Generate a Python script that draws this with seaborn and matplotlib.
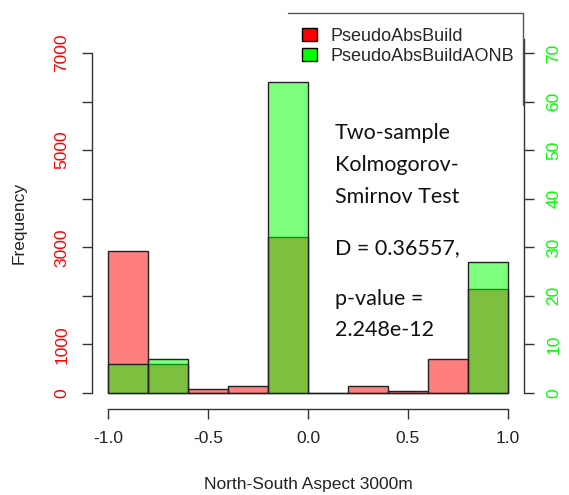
import matplotlib
matplotlib.use("Agg")
import matplotlib.pyplot as plt
from matplotlib.patches import Patch
from matplotlib.lines import Line2D
import seaborn as sns

# bins of the North-South aspect histogram
bin_edges = [-1.0, -0.8, -0.6, -0.4, -0.2, 0.0, 0.2, 0.4, 0.6, 0.8, 1.0]
bin_mids = [-0.9, -0.7, -0.5, -0.3, -0.1, 0.1, 0.3, 0.5, 0.7, 0.9]
# counts
abs_build = [2920, 600, 75, 145, 3215, 0, 140, 45, 695, 2135]
abs_build_aonb = [6, 7, 0, 0, 64, 0, 0, 0, 0, 27]

left_ticks = [0, 1000, 2000, 3000, 4000, 5000, 6000, 7000]
left_labels = ["0", "1000", "", "3000", "", "5000", "", "7000"]
right_ticks = [0, 10, 20, 30, 40, 50, 60, 70]
x_ticks = [-1.0, -0.5, 0.0, 0.5, 1.0]

sns.set_theme(style="white")
plt.rcParams["font.family"] = ["Liberation Sans", "DejaVu Sans"]

W, H = 569, 495
fig = plt.figure(figsize=(W / 100, H / 100), dpi=100)
ax = fig.add_axes([92 / W, 1 - 406.6 / H, 432 / W, 367.2 / H])

# first sample (left axis, red)
sns.histplot(x=bin_mids, weights=abs_build, bins=bin_edges, ax=ax,
             color="red", edgecolor="black", linewidth=1)
for p in ax.patches:
    p.set_alpha(None)
    p.set_facecolor((1, 0, 0, 0.5))
    p.set_edgecolor("#222222")

# second sample (right axis, green)
ax2 = ax.twinx()
sns.histplot(x=bin_mids, weights=abs_build_aonb, bins=bin_edges, ax=ax2,
             color="lime", edgecolor="black", linewidth=1)
for p in ax2.patches:
    p.set_alpha(None)
    p.set_facecolor((0, 1, 0, 0.5))
    p.set_edgecolor("#222222")

ax.set_xlim(-1.08, 1.08)
ax.set_ylim(-280, 7280)
ax2.set_ylim(-2.8, 72.8)

for a in (ax, ax2):
    for s in a.spines.values():
        s.set_visible(False)
    a.grid(False)

ax.spines["left"].set_visible(True)
ax.spines["left"].set_bounds(0, 7000)
ax.spines["bottom"].set_visible(True)
ax.spines["bottom"].set_bounds(-1, 1)
ax.spines["bottom"].set_position(("outward", 1.5))
ax2.spines["right"].set_visible(True)
ax2.spines["right"].set_bounds(0, 72.8)
for s in (ax.spines["left"], ax.spines["bottom"], ax2.spines["right"]):
    s.set_color("#333333")
    s.set_linewidth(1)

ax.set_yticks(left_ticks)
ax.set_yticklabels(left_labels, rotation=90, va="center", color="red")
ax2.set_yticks(right_ticks)
ax2.set_yticklabels([str(t) for t in right_ticks], rotation=90, va="center", color="#00ff00")
ax.set_xticks(x_ticks)
ax.set_xticklabels(["-1.0", "-0.5", "0.0", "0.5", "1.0"], color="#222222")

ax.tick_params(axis="both", direction="out", length=7.2, width=1, color="#333333",
               labelsize=12.5, pad=9, left=True, bottom=True)
ax2.tick_params(axis="y", direction="out", length=7.2, width=1, color="#333333",
                labelsize=12.5, pad=9, right=True)

ax.set_ylabel("Frequency", fontsize=12.5, color="#222222", labelpad=20)
ax.set_xlabel("North-South Aspect 3000m", fontsize=12.5, color="#222222", labelpad=22)
ax2.set_ylabel("")

# legend box (only top and right edges visible)
fig.add_artist(Line2D([288 / W, 522.7 / W], [1 - 13 / H, 1 - 13 / H],
                      color="#555555", lw=1, transform=fig.transFigure))
fig.add_artist(Line2D([522.7 / W, 522.7 / W], [1 - 13 / H, 1 - 105 / H],
                      color="#555555", lw=1, transform=fig.transFigure))
handles = [Patch(facecolor="red", edgecolor="black"),
           Patch(facecolor="lime", edgecolor="black")]
fig.legend(handles, ["PseudoAbsBuild", "PseudoAbsBuildAONB"],
           loc="upper left", bbox_to_anchor=(302 / W, 1 - 28 / H),
           frameon=False, fontsize=13, handlelength=0.85, handleheight=0.7,
           handletextpad=0.75, labelspacing=0.15, borderpad=0, borderaxespad=0)

# KS test annotation
ks_lines = [("Two-sample", 133), ("Kolmogorov-", 165), ("Smirnov Test", 197),
            ("D = 0.36557,", 248), ("p-value =", 299), ("2.248e-12", 330)]
for txt, yy in ks_lines:
    fig.text(335 / W, 1 - yy / H, txt, fontsize=15.5, family=["Lato", "DejaVu Sans"],
             va="center", ha="left", color="#111111")

fig.savefig("out.png", dpi=100)
